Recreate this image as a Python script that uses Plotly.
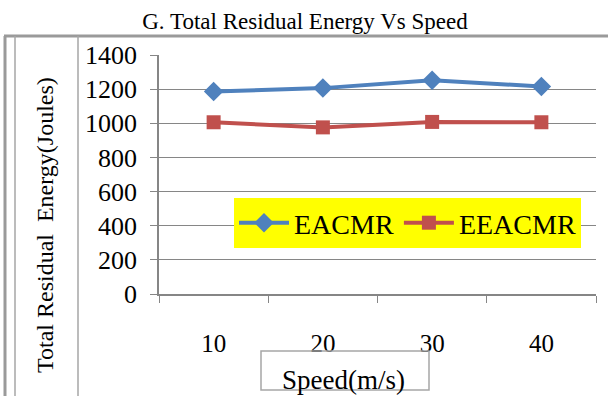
import plotly.graph_objects as go

speeds = ["10", "20", "30", "40"]
eacmr = [1186, 1206, 1252, 1216]
eeacmr = [1006, 976, 1008, 1006]
y_ticks = [0, 200, 400, 600, 800, 1000, 1200, 1400]

FONT = "Liberation Serif"
W, H = 608, 396
L, R, T, B = 159, 12, 55, 102
PW, PH = W - L - R, H - T - B


def px(x):
    return (x - L) / PW


def py(y):
    return (H - B - y) / PH


fig = go.Figure()
fig.add_trace(go.Scatter(
    x=speeds, y=eacmr, name="EACMR", mode="lines+markers",
    line=dict(color="#4F81BD", width=4),
    marker=dict(symbol="diamond", size=15, color="#4F81BD"),
))
fig.add_trace(go.Scatter(
    x=speeds, y=eeacmr, name="EEACMR", mode="lines+markers",
    line=dict(color="#C0504D", width=4),
    marker=dict(symbol="square", size=14, color="#C0504D"),
))

grey = "#A6A6A6"
shapes = [
    dict(type="line", xref="paper", yref="paper", x0=px(4), x1=px(608), y0=py(36), y1=py(36),
         line=dict(color="#9A9A9A", width=3)),
    dict(type="line", xref="paper", yref="paper", x0=px(5), x1=px(5), y0=py(36), y1=py(396),
         line=dict(color="#9A9A9A", width=3)),
    dict(type="line", xref="paper", yref="paper", x0=px(15), x1=px(15), y0=py(36), y1=py(396),
         line=dict(color=grey, width=1.5)),
    dict(type="line", xref="paper", yref="paper", x0=px(78), x1=px(78), y0=py(36), y1=py(396),
         line=dict(color=grey, width=1.5)),
    dict(type="rect", xref="paper", yref="paper", x0=px(261), x1=px(429), y0=py(390), y1=py(351),
         line=dict(color=grey, width=1.5), fillcolor="rgba(0,0,0,0)"),
]

annotations = [
    dict(text="Total Residual\u00a0 Energy(Joules)", textangle=-90, xref="paper", yref="paper",
         x=px(45), y=py(225), xanchor="center", yanchor="middle", showarrow=False,
         font=dict(family=FONT, size=24, color="black")),
    dict(text="Speed(m/s)", xref="paper", yref="paper",
         x=px(343), y=py(380), xanchor="center", yanchor="middle", showarrow=False,
         font=dict(family=FONT, size=27, color="black")),
]

fig.update_layout(
    width=W, height=H,
    margin=dict(l=L, r=R, t=T, b=B),
    paper_bgcolor="white", plot_bgcolor="white",
    title=dict(text="G. Total Residual Energy Vs Speed", x=305 / W, xanchor="center",
               xref="container", yref="container", y=1 - 21 / H, yanchor="middle",
               font=dict(family=FONT, size=23, color="black")),
    font=dict(family=FONT, color="black"),
    xaxis=dict(
        type="category", tickson="boundaries", ticks="outside", ticklen=7,
        tickcolor="#868686", showline=True, linecolor="#868686", linewidth=1.5,
        showgrid=False, tickfont=dict(family=FONT, size=25, color="black"),
        ticklabelstandoff=26, range=[-0.5, 3.5],
    ),
    yaxis=dict(
        range=[0, 1400], tickvals=y_ticks, ticks="outside", ticklen=7,
        tickcolor="#868686", showline=True, linecolor="#868686", linewidth=1.5,
        showgrid=True, gridcolor="#868686", gridwidth=1,
        tickfont=dict(family=FONT, size=26, color="black"),
        ticklabelstandoff=8, zeroline=False,
    ),
    legend=dict(
        orientation="h", x=px(234), y=py(198), xanchor="left", yanchor="top",
        bgcolor="#FFFF00", font=dict(family=FONT, size=28, color="black"),
        borderwidth=0, itemwidth=50, tracegroupgap=0,
    ),
    shapes=shapes,
    annotations=annotations,
)

fig.write_html("out.html")
